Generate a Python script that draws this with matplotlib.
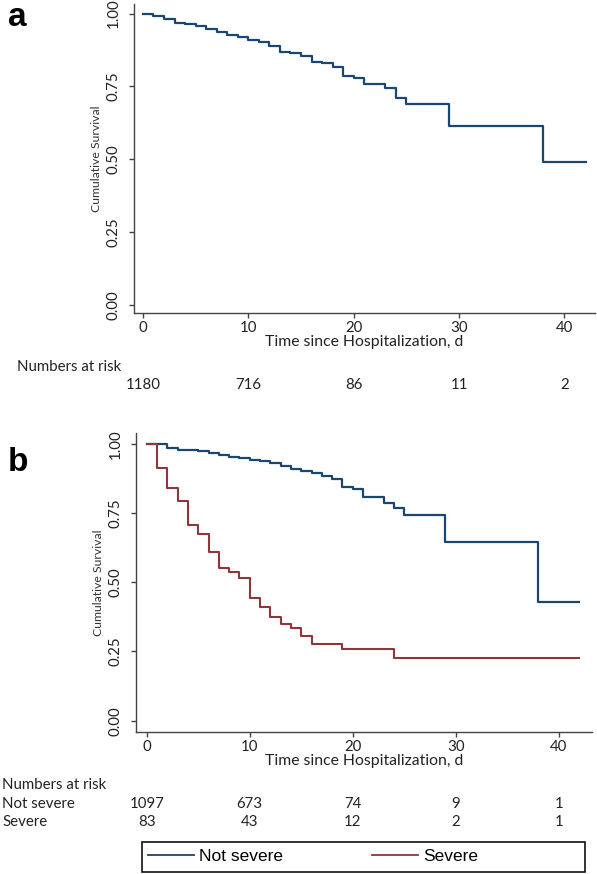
import matplotlib
matplotlib.use("Agg")
import matplotlib.pyplot as plt
from matplotlib.lines import Line2D
from matplotlib.patches import Rectangle
from matplotlib.transforms import blended_transform_factory

# panel a: all patients
days_all = [0, 1, 2, 3, 4, 5, 6, 7, 8, 9, 10, 11, 12, 13, 14, 15, 16, 17, 18,
            19, 20, 21, 23, 24, 25, 29, 38, 42]
surv_all = [1.000, 0.993, 0.980, 0.969, 0.964, 0.957, 0.946, 0.936, 0.928,
            0.919, 0.909, 0.901, 0.890, 0.870, 0.864, 0.853, 0.835, 0.830,
            0.818, 0.786, 0.778, 0.757, 0.744, 0.712, 0.691, 0.614, 0.491,
            0.491]

# panel b: not severe / severe
days_ns = [0, 2, 3, 5, 6, 7, 8, 9, 10, 11, 12, 13, 14, 15, 16, 17, 18, 19,
           20, 21, 23, 24, 25, 29, 38, 42]
surv_ns = [1.000, 0.986, 0.980, 0.975, 0.967, 0.960, 0.953, 0.948, 0.943,
           0.938, 0.931, 0.919, 0.911, 0.904, 0.897, 0.883, 0.873, 0.845,
           0.837, 0.810, 0.788, 0.768, 0.744, 0.645, 0.428, 0.428]
days_sv = [0, 1, 2, 3, 4, 5, 6, 7, 8, 9, 10, 11, 12, 13, 14, 15, 16, 19, 24, 42]
surv_sv = [1.000, 0.913, 0.843, 0.795, 0.708, 0.674, 0.611, 0.551, 0.539,
           0.515, 0.444, 0.410, 0.374, 0.350, 0.336, 0.307, 0.277, 0.258,
           0.226, 0.226]

risk_days = [0, 10, 20, 30, 40]
risk_all = ["1180", "716", "86", "11", "2"]
risk_ns = ["1097", "673", "74", "9", "1"]
risk_sv = ["83", "43", "12", "2", "1"]

xticks = [0, 10, 20, 30, 40]
yticks = [0.0, 0.25, 0.5, 0.75, 1.0]

BLUE = "#1a476f"
RED = "#90353b"
AXC = "#444444"
TXT = "#222222"
FS = 10.8
W, H = 597, 874

plt.rcParams["font.family"] = ["Lato", "DejaVu Sans"]


def style_axes(ax, xlim, ylim):
    for s in ["top", "right"]:
        ax.spines[s].set_visible(False)
    for s in ["left", "bottom"]:
        ax.spines[s].set_color(AXC)
        ax.spines[s].set_linewidth(1.0)
    ax.set_xlim(*xlim)
    ax.set_ylim(*ylim)
    ax.set_xticks(xticks)
    ax.set_yticks(yticks)
    ax.set_yticklabels(["%.2f" % v for v in yticks], rotation=90, va="center")
    ax.tick_params(axis="both", direction="out", length=3.6, width=1.0,
                   color=AXC, labelsize=FS, labelcolor=TXT)
    ax.tick_params(axis="y", pad=6)
    ax.tick_params(axis="x", pad=2.5)
    ax.set_ylabel("Cumulative Survival", fontsize=8.8, color="#333333", labelpad=3)
    ax.set_xlabel("Time since Hospitalization, d", fontsize=11.3, color=TXT,
                  labelpad=0)


def fy(py):
    return 1 - py / H


fig = plt.figure(figsize=(W / 100, H / 100), dpi=100)

# panel a
ax1 = fig.add_axes([134 / W, fy(313), (595 - 134) / W, (313 - 4) / H])
ax1.step(days_all, surv_all, where="post", color=BLUE, lw=1.6)
style_axes(ax1, (-0.85, 42.9), (-0.027, 1.033))

tr1 = blended_transform_factory(ax1.transData, fig.transFigure)
fig.text(17 / W, fy(367), "Numbers at risk", fontsize=FS, va="center", color=TXT)
for d, n in zip(risk_days, risk_all):
    ax1.text(d, fy(385), n, transform=tr1, ha="center", va="center",
             fontsize=FS, color=TXT)

# panel b
ax2 = fig.add_axes([136 / W, fy(731.7), (591.7 - 136) / W, (731.7 - 433.3) / H])
ax2.step(days_ns, surv_ns, where="post", color=BLUE, lw=1.6, zorder=2)
ax2.step(days_sv, surv_sv, where="post", color=RED, lw=1.5, zorder=3)
style_axes(ax2, (-1.04, 43.2), (-0.04, 1.039))

tr2 = blended_transform_factory(ax2.transData, fig.transFigure)
fig.text(2 / W, fy(785), "Numbers at risk", fontsize=FS, va="center", color=TXT)
fig.text(2 / W, fy(804), "Not severe", fontsize=FS, va="center", color=TXT)
fig.text(2 / W, fy(822.5), "Severe", fontsize=FS, va="center", color=TXT)
for d, a, b in zip(risk_days, risk_ns, risk_sv):
    ax2.text(d, fy(804), a, transform=tr2, ha="center", va="center",
             fontsize=FS, color=TXT)
    ax2.text(d, fy(822.5), b, transform=tr2, ha="center", va="center",
             fontsize=FS, color=TXT)

# panel letters
fig.text(8 / W, fy(26), "a", fontsize=24, fontweight="bold",
         family="Liberation Sans", va="baseline")
fig.text(8 / W, fy(471), "b", fontsize=24, fontweight="bold",
         family="Liberation Sans", va="baseline")

# legend: frame drawn separately, entries placed inside
fig.patches.append(Rectangle((141.7 / W, fy(871.7)), (585 - 141.7) / W, 30 / H,
                             transform=fig.transFigure, fill=False,
                             edgecolor="#111111", lw=1.2))
handles = [Line2D([], [], color=BLUE, lw=1.3), Line2D([], [], color=RED, lw=1.3)]
fig.legend(handles, ["Not severe", "Severe"], ncol=2,
           bbox_to_anchor=(148 / W, fy(856.7)), loc="center left",
           frameon=False, borderaxespad=0, borderpad=0,
           handlelength=2.65, handletextpad=0.3, columnspacing=5.1,
           prop={"family": "Liberation Sans", "size": 12.5})

fig.savefig("out.png", dpi=100)
